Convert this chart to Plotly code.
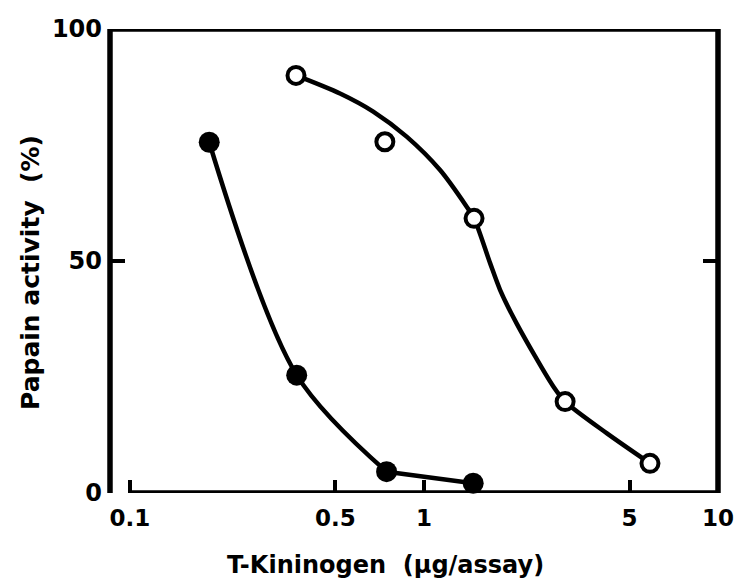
import plotly.graph_objects as go

# Data
filled_x = [0.186, 0.369, 0.746, 1.47]
filled_y = [75.6, 25.4, 4.6, 2.1]

open_x = [0.367, 0.736, 1.48, 3.02, 5.87]
open_y = [90.0, 75.7, 59.2, 19.7, 6.4]

# Hand-drawn fitted curve through the open-circle series
open_curve_x = [0.367, 0.518, 0.672, 0.873, 1.134, 1.397, 1.48, 1.677, 1.814,
                2.067, 2.75, 3.02, 4.18, 5.87]
open_curve_y = [90.0, 86.1, 82.2, 76.8, 69.6, 61.7, 59.2, 49.6, 43.8,
                36.5, 23.0, 19.7, 12.9, 6.4]

x_tickvals = [0.1, 0.5, 1, 5, 10]
x_ticktext = ["0.1", "0.5", "1", "5", "10"]
y_tickvals = [0, 50, 100]
y_ticktext = ["0", "50", "100"]

FONT = "DejaVu Sans"
LW = 4.5      # curve width
FW = 5.5      # frame width
XR = [-1.068, 1.0]

fig = go.Figure()

# filled series curve: smooth through the first three, straight to the last
fig.add_trace(go.Scatter(x=filled_x[:3], y=filled_y[:3], mode="lines",
                         line=dict(color="black", width=LW, shape="spline", smoothing=0.9),
                         showlegend=False, hoverinfo="skip"))
fig.add_trace(go.Scatter(x=filled_x[2:], y=filled_y[2:], mode="lines",
                         line=dict(color="black", width=LW),
                         showlegend=False, hoverinfo="skip"))
fig.add_trace(go.Scatter(x=open_curve_x, y=open_curve_y, mode="lines",
                         line=dict(color="black", width=LW, shape="spline", smoothing=0.8),
                         showlegend=False, hoverinfo="skip"))
fig.add_trace(go.Scatter(x=filled_x, y=filled_y, mode="markers",
                         marker=dict(symbol="circle", size=21, color="black",
                                     line=dict(width=0)),
                         showlegend=False, cliponaxis=False))
fig.add_trace(go.Scatter(x=open_x, y=open_y, mode="markers",
                         marker=dict(symbol="circle", size=17, color="white",
                                     line=dict(width=4, color="black")),
                         showlegend=False, cliponaxis=False))

# frame
x01 = (-1 - XR[0]) / (XR[1] - XR[0])
shapes = [
    dict(type="line", xref="paper", yref="y", x0=0, x1=0, y0=0, y1=100,
         line=dict(color="black", width=FW)),
    dict(type="line", xref="paper", yref="y", x0=0, x1=1, y0=100, y1=100,
         line=dict(color="black", width=FW)),
    dict(type="line", xref="paper", yref="y", x0=1, x1=1, y0=0, y1=100,
         line=dict(color="black", width=FW)),
    dict(type="line", xref="paper", yref="y", x0=x01, x1=1, y0=0, y1=0,
         line=dict(color="black", width=FW)),
]

fig.update_layout(
    width=737, height=581,
    margin=dict(l=110, r=19, t=29, b=88),
    paper_bgcolor="white", plot_bgcolor="white",
    shapes=shapes,
    xaxis=dict(type="log", range=XR, tickvals=x_tickvals, ticktext=x_ticktext,
               ticks="inside", ticklen=13, tickwidth=3.5, tickcolor="black",
               showline=False, showgrid=False, zeroline=False, automargin=False,
               ticklabeloverflow="allow",
               tickfont=dict(family=FONT, size=23, color="black", weight="bold"),
               ticklabelstandoff=9),
    yaxis=dict(range=[0, 100], tickvals=y_tickvals, ticktext=y_ticktext,
               ticks="inside", ticklen=15, tickwidth=3.5, tickcolor="black",
               mirror="ticks", showline=False, showgrid=False, zeroline=False,
               automargin=False,
               tickfont=dict(family=FONT, size=24, color="black", weight="bold"),
               ticklabelstandoff=7),
    annotations=[
        dict(text="T-Kininogen\u00a0\u00a0(µg/assay)", xref="paper", yref="paper",
             x=(385 - 110) / 608, y=-(565 - 493) / 464, xanchor="center", yanchor="middle",
             showarrow=False, font=dict(family=FONT, size=24, color="black", weight="bold")),
        dict(text="Papain activity\u00a0\u00a0(%)", xref="paper", yref="paper",
             x=(30 - 110) / 608, y=(493 - 273) / 464, xanchor="center", yanchor="middle",
             textangle=-90, showarrow=False,
             font=dict(family=FONT, size=25, color="black", weight="bold")),
    ],
)

# remove the page's default 8px body margin so the figure sits at the corner
fig.write_html("out.html", config={"displayModeBar": False},
               post_script="document.body.style.margin='0px';document.body.style.overflow='hidden';")
